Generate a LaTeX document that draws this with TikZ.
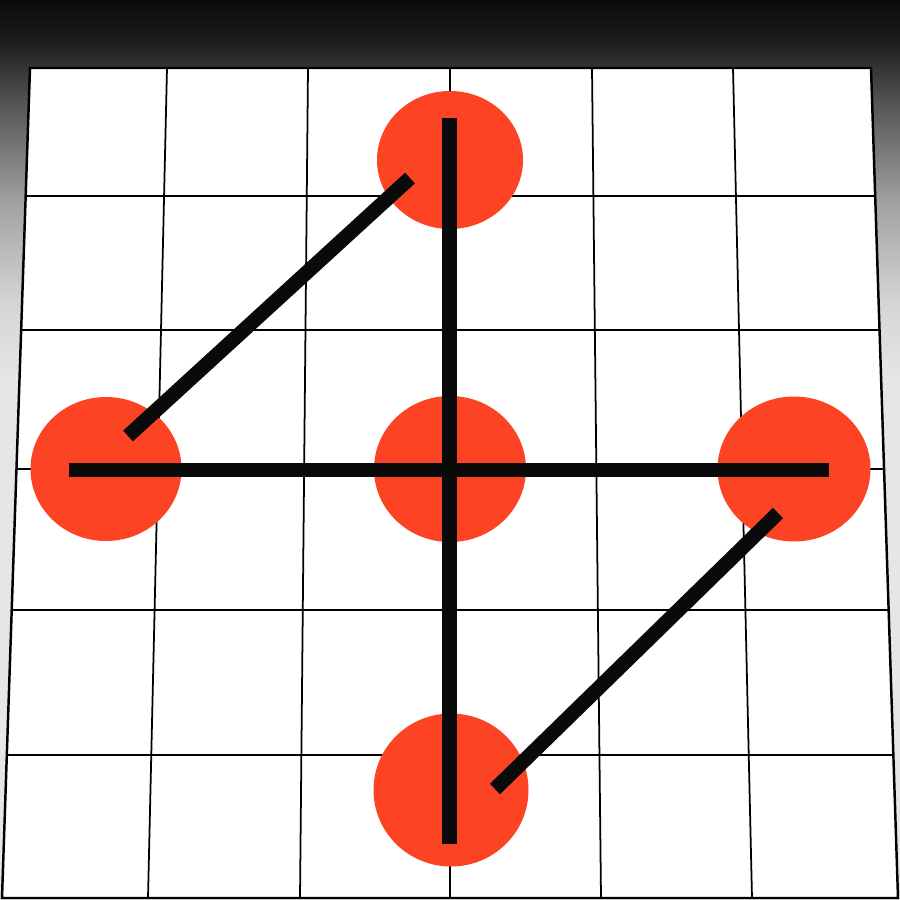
\documentclass[tikz,border=0pt]{standalone}
\usetikzlibrary{shapes.geometric}
\usetikzlibrary{calc}

\definecolor{dotred}{RGB}{252,68,36}
\definecolor{inkblack}{RGB}{10,10,10}
\definecolor{bgA}{RGB}{11,11,11}
\definecolor{bgB}{RGB}{28,28,28}
\definecolor{bgC}{RGB}{82,82,82}
\definecolor{bgD}{RGB}{160,160,160}
\definecolor{bgE}{RGB}{212,212,212}
\definecolor{bgF}{RGB}{230,230,230}

\begin{document}
\begin{tikzpicture}[x=0.1mm, y=-0.1mm,
	dot/.style={ellipse, fill=dotred, inner sep=0pt},
	stroke/.style={inkblack, line width=1.45mm},
	gridline/.style={line width=0.5pt}]

	\useasboundingbox (0,0) rectangle (900,900);

	% backdrop, dark on top fading into light grey
	\fill[bgF] (0,0) rectangle (900,900);
	\shade[top color=bgA, bottom color=bgB] (0,0) rectangle (900,41);
	\shade[top color=bgB, bottom color=bgC] (0,40) rectangle (900,101);
	\shade[top color=bgC, bottom color=bgD] (0,100) rectangle (900,201);
	\shade[top color=bgD, bottom color=bgE] (0,200) rectangle (900,301);
	\shade[top color=bgE, bottom color=bgF] (0,300) rectangle (900,380);

	% corners of the board
	\coordinate (tl) at (30,68);	\coordinate (tr) at (871,68);
	\coordinate (bl) at (2,898);	\coordinate (br) at (898,898);

	% board and its grid
	\filldraw[fill=white, line width=0.7pt] (tl) -- (tr) -- (br) -- (bl) -- cycle;
	\foreach \a/\b in {167/148, 308/300, 450/450, 592/601, 733/752}
		\draw[gridline] (\a,68) -- (\b,898);
	\foreach \y in {196, 330, 469, 610, 755}
		\draw[gridline] ($(tl)!{(\y-68)/830}!(bl)$) -- ($(tr)!{(\y-68)/830}!(br)$);

	% the five dots
	\node[dot, minimum width=14.6mm, minimum height=13.8mm] (top) at (450,160) {};
	\node[dot, minimum width=15.1mm, minimum height=14.4mm] (left) at (106,469) {};
	\node[dot, minimum width=15.2mm, minimum height=14.6mm] (mid) at (450,469) {};
	\node[dot, minimum width=15.3mm, minimum height=14.5mm] (right) at (794,469) {};
	\node[dot, minimum width=15.5mm, minimum height=15.3mm] (bottom) at (451,790) {};

	% ends of the strokes
	\coordinate (vtop) at (449.5,118);	\coordinate (vbot) at (449.5,844);
	\coordinate (hleft) at (69,470);	\coordinate (hright) at (829,470);
	\coordinate (alow) at (128,436);	\coordinate (ahigh) at (410,178);
	\coordinate (blow) at (495,789);	\coordinate (bhigh) at (778,513);

	% strokes over the dots
	\draw[stroke] (vtop) -- (vbot);
	\draw[stroke] (hleft) -- (hright);
	\draw[stroke] (alow) -- (ahigh);
	\draw[stroke] (blow) -- (bhigh);

\end{tikzpicture}
\end{document}
